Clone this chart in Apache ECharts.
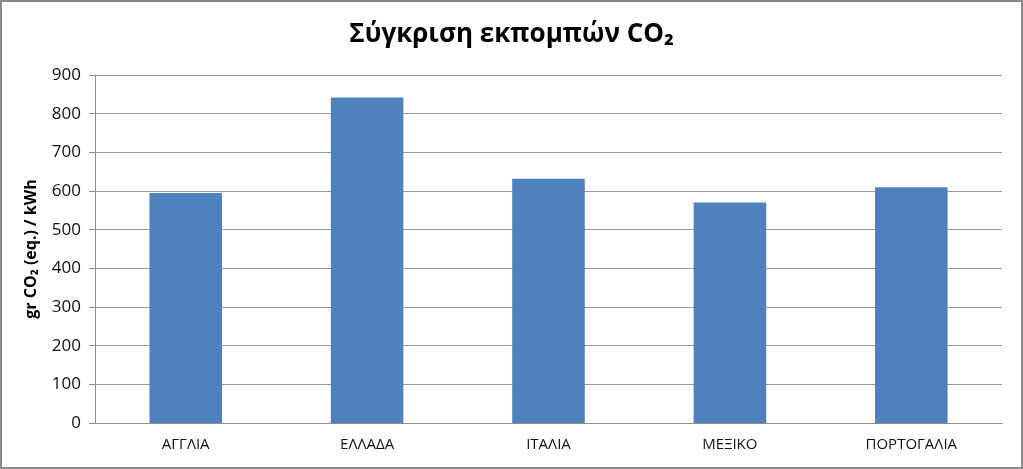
<!DOCTYPE html>
<html>
<head>
<meta charset="utf-8">
<script src="https://cdn.jsdelivr.net/npm/echarts@6/dist/echarts.min.js"></script>
<style>
  html, body { margin: 0; padding: 0; background: #fff; }
  #chart { width: 1023px; height: 469px; box-sizing: border-box; border: 2px solid #8a8a8a; }
</style>
</head>
<body>
<div id="chart"></div>
<script>
const countries = ['ΑΓΓΛΙΑ', 'ΕΛΛΑΔΑ', 'ΙΤΑΛΙΑ', 'ΜΕΞΙΚΟ', 'ΠΟΡΤΟΓΑΛΙΑ'];
const emissions = [595, 842, 632, 570, 610];
const yTicks = { min: 0, max: 900, step: 100 };

const chart = echarts.init(document.getElementById('chart'));
chart.setOption({
  animation: false,
  title: {
    text: 'Σύγκριση εκπομπών CO₂',
    left: 'center',
    top: 15,
    textStyle: { fontFamily: 'Open Sans', fontWeight: 'bold', fontSize: 26, color: '#000' }
  },
  grid: { left: 93, right: 19, top: 73, bottom: 44 },
  xAxis: {
    type: 'category',
    data: countries,
    axisLine: { lineStyle: { color: '#8c8c8c' } },
    axisTick: { show: false },
    axisLabel: { fontFamily: 'Open Sans', fontSize: 15, color: '#111', margin: 14 }
  },
  yAxis: {
    type: 'value',
    min: yTicks.min,
    max: yTicks.max,
    interval: yTicks.step,
    name: 'gr CO₂ (eq.) / kWh',
    nameLocation: 'middle',
    nameGap: 56,
    nameRotate: 90,
    nameTextStyle: { fontFamily: 'Open Sans', fontWeight: 'bold', fontSize: 16, color: '#000' },
    axisLine: { show: true, lineStyle: { color: '#8c8c8c' } },
    axisTick: { show: true, length: 6, lineStyle: { color: '#8c8c8c' } },
    axisLabel: { fontFamily: 'Open Sans', fontSize: 17, color: '#111', margin: 14 },
    splitLine: { lineStyle: { color: '#9a9a9a' } }
  },
  series: [{
    type: 'bar',
    data: emissions,
    barWidth: '40%',
    itemStyle: { color: '#4F81BD' }
  }]
});
</script>
</body>
</html>
